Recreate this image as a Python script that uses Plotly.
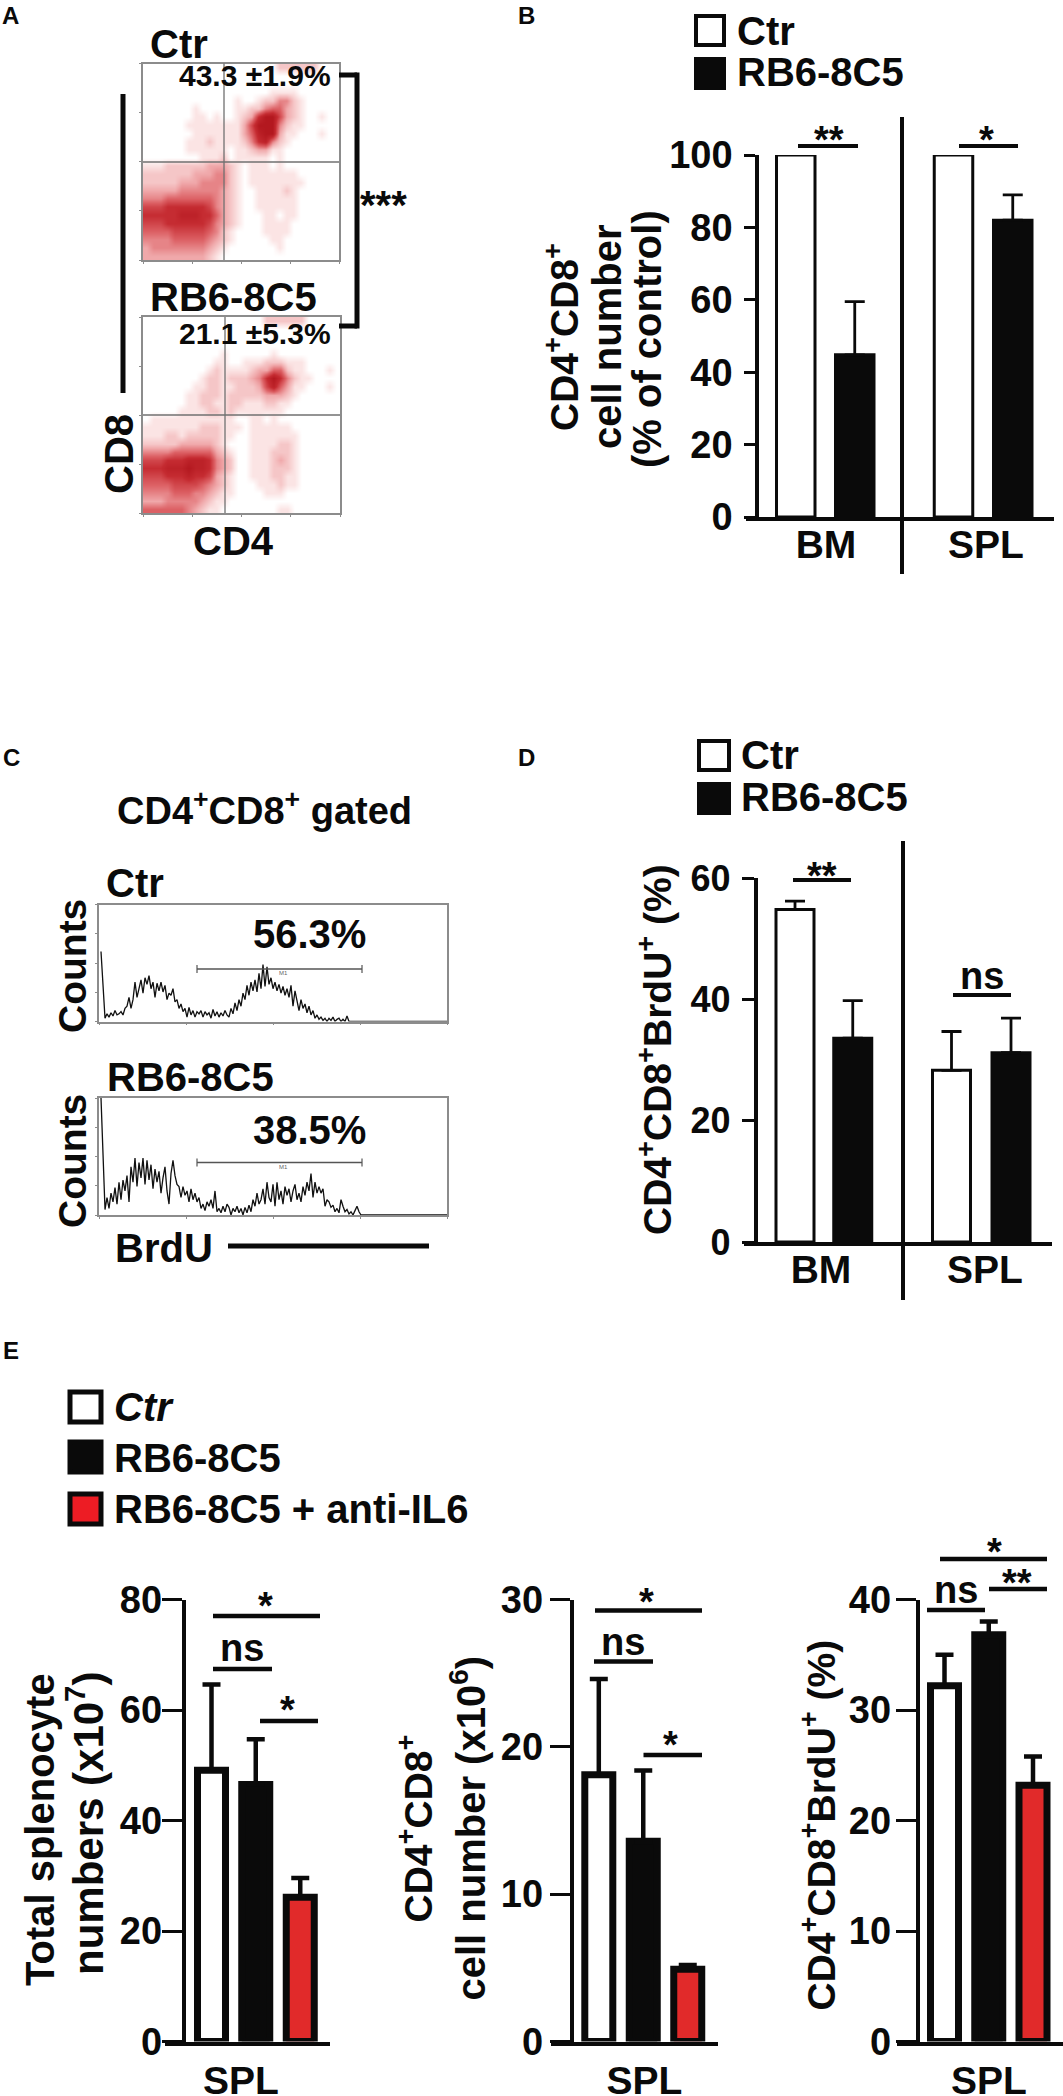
import plotly.graph_objects as go

W, H = 1063, 2096
FONT = "Liberation Sans"
INK = "#0a0a0a"
RED_BAR = "#e12a2a"
RED_KEY = "#ed1c24"
GRAY = "#8c8c8c"

# panel B: CD4+CD8+ cell number (% of control)
b_groups = ["BM", "SPL"]
b_ctr = [100, 100]
b_rb6 = [44.8, 82]
b_rb6_err = [14.7, 7]
b_ticks = [0, 20, 40, 60, 80, 100]

# panel D: CD4+CD8+BrdU+ (%)
d_groups = ["BM", "SPL"]
d_ctr = [54.8, 28.3]
d_ctr_err = [1.4, 6.4]
d_rb6 = [33.6, 31.2]
d_rb6_err = [6.2, 5.7]
d_ticks = [0, 20, 40, 60]

# panel E: three spleen charts, Ctr / RB6-8C5 / RB6-8C5 + anti-IL6
e1_vals = [49.1, 46.5, 26.1]
e1_err = [15.5, 8.2, 3.5]
e1_ticks = [0, 20, 40, 60, 80]
e2_vals = [18.1, 13.6, 4.9]
e2_err = [6.5, 4.8, 0.3]
e2_ticks = [0, 10, 20, 30]
e3_vals = [32.2, 36.8, 23.2]
e3_err = [2.8, 1.2, 2.6]
e3_ticks = [0, 10, 20, 30, 40]

# panel C: BrdU histograms, counts per channel
hist_ctr = [64, 30, 3, 7, 4, 8, 5, 10, 6, 7,
            9, 6, 12, 14, 22, 12, 20, 36, 22, 30,
            38, 26, 40, 34, 42, 30, 36, 22, 35, 28,
            36, 27, 33, 20, 26, 24, 30, 18, 20, 12,
            16, 9, 12, 4, 13, 6, 10, 4, 9, 7,
            10, 4, 9, 6, 8, 3, 11, 5, 9, 4,
            8, 5, 10, 6, 4, 12, 7, 17, 10, 20,
            14, 26, 20, 33, 24, 36, 28, 38, 27, 44,
            30, 52, 32, 50, 34, 40, 30, 36, 28, 34,
            26, 32, 24, 30, 22, 33, 14, 28, 18, 10,
            20, 12, 16, 8, 14, 6, 10, 3, 6, 2,
            4, 1, 3, 0, 3, 1, 4, 0, 2, 3,
            0, 2, 0, 5, 0, 0, 0, 0, 0, 0]
hist_rb6 = [107, 60, 5, 16, 6, 20, 12, 25, 10, 30,
            14, 32, 22, 36, 12, 44, 30, 52, 26, 48,
            34, 52, 28, 50, 32, 46, 24, 42, 30, 40,
            20, 34, 44, 22, 10, 38, 50, 36, 28, 26,
            16, 26, 18, 22, 12, 24, 14, 20, 12, 16,
            6, 10, 4, 12, 8, 14, 6, 22, 3, 6,
            2, 8, 3, 10, 7, 0, 6, 3, 8, 2,
            6, 0, 7, 2, 9, 3, 14, 8, 20, 10,
            14, 24, 10, 30, 16, 12, 28, 8, 30, 14,
            22, 10, 26, 18, 24, 12, 22, 28, 14, 20,
            12, 26, 18, 30, 22, 38, 16, 30, 20, 26,
            20, 24, 8, 14, 12, 7, 9, 3, 6, 2,
            14, 8, 3, 5, 1, 3, 0, 4, 8, 3]
HIST_CHANNELS = 174

# panel A: dot plot density, one digit per cell
dots_ctr = [
    "0000000000000000000222222000",
    "0000000000000000000000000000",
    "0000000000000000000000000000",
    "0000000000000000001111000000",
    "0000000000000100122442100000",
    "0000000100000112245532100000",
    "0000000110100123799632100100",
    "0000001111111136999421100000",
    "0000000111111135899311000100",
    "0000001112111124784210000000",
    "0000001111110112331100000000",
    "0000000011120111110100000000",
    "1112222223332101110100000000",
    "2222222333442101111111000000",
    "2222233344442101111111100000",
    "3333344444432100111121000000",
    "4445555555432100111111000000",
    "6667777776432100111111000000",
    "7777788877532100011011000000",
    "6667777776432100011110000000",
    "5555666665421000011110000000",
    "4444555554321000001100000000",
    "3444444443210000000100000000",
    "3333333332100000000000000000",
]
dots_rb6 = [
    "0000000000000000022222200000",
    "0000000000000000000000000000",
    "0000000000000000000000000000",
    "0000000000000000000000000000",
    "0000000000010000001000000000",
    "0000000000110011122211100000",
    "0000000001211112335521100010",
    "0000000012212223479742110000",
    "0000000112211222368531100010",
    "0000001122212222233321000000",
    "0000001122112211122110000000",
    "0000011112212111111100000000",
    "0111111111111001101000000000",
    "1111111122211101111110000000",
    "1112212222211001111111000000",
    "2222233333210001111221000000",
    "4444555555321001112221000000",
    "6667778887432001112321000000",
    "7778889887432001112221000000",
    "6667778776321001112211000000",
    "5555666654321000111211000000",
    "4444555443211000011100000000",
    "3334444432110000000000000000",
    "5555554321100000000110000000",
]


def fx(px):
    return px / W


def fy(py):
    return 1 - py / H


fig = go.Figure()


def text(x, y, s, size=40, anchor="center", angle=0, italic=False, weight="bold", color=INK):
    fig.add_annotation(
        x=fx(x), y=fy(y), xref="paper", yref="paper", text=s, showarrow=False,
        xanchor=anchor, yanchor="middle", textangle=angle,
        font=dict(family=FONT, size=size, color=color, weight=weight,
                  style="italic" if italic else "normal"),
    )


def line(x0, y0, x1, y1, width=4, color=INK):
    fig.add_shape(type="line", xref="paper", yref="paper", x0=fx(x0), y0=fy(y0), x1=fx(x1), y1=fy(y1),
                  line=dict(color=color, width=width))


def swatch(x0, y0, x1, y1, fill, width=4):
    fig.add_shape(type="rect", xref="paper", yref="paper", x0=fx(x0), y0=fy(y0), x1=fx(x1), y1=fy(y1),
                  fillcolor=fill, line=dict(color=INK, width=width))


def bar_axes(n, left, axis_x, right, top, bottom, ymax, ticks, groups, centers, tick_size, ticklen, standoff, label_size, label_standoff):
    fig.update_layout(**{
        f"xaxis{n}": dict(
            domain=[fx(left), fx(right)], range=[left, right], anchor=f"y{n}", automargin=False,
            showline=True, linecolor=INK, linewidth=3.5, showgrid=False, zeroline=False,
            ticks="", tickmode="array", tickvals=centers, ticktext=groups,
            ticklabelstandoff=label_standoff,
            tickfont=dict(family=FONT, size=label_size, color=INK, weight="bold"),
        ),
        f"yaxis{n}": dict(
            domain=[fy(bottom), fy(top)], range=[0, ymax], anchor="free", position=fx(axis_x), automargin=False,
            showline=True, linecolor=INK, linewidth=3.5, showgrid=False, zeroline=False,
            ticks="outside", ticklen=ticklen, tickwidth=3, tickcolor=INK,
            tickmode="array", tickvals=ticks, ticklabelstandoff=standoff,
            tickfont=dict(family=FONT, size=tick_size, color=INK, weight="bold"),
        ),
    })


def bars(n, xs, vals, errs, fill, width, stroke, cap, thick):
    err = dict(type="data", array=errs, symmetric=False, arrayminus=[0] * len(vals),
               color=INK, thickness=thick, width=cap) if errs else dict(visible=False)
    fig.add_trace(go.Bar(x=xs, y=vals, width=width, xaxis=f"x{n}", yaxis=f"y{n}",
                         marker=dict(color=fill, line=dict(color=INK, width=stroke)),
                         error_y=err, showlegend=False))


def facs_axes(n, left, right, top, bottom, xrange, yrange):
    span_x = xrange[1] - xrange[0]
    span_y = yrange[1] - yrange[0]
    fig.update_layout(**{
        f"xaxis{n}": dict(
            domain=[fx(left), fx(right)], range=xrange, anchor=f"y{n}", mirror=True, automargin=False,
            showline=True, linecolor=GRAY, linewidth=1.5, showgrid=False, zeroline=False,
            ticks="outside", ticklen=2, tickwidth=1, tickcolor=GRAY, showticklabels=False,
            tickmode="array", tickvals=[xrange[0] + span_x * k / 4 for k in range(5)],
        ),
        f"yaxis{n}": dict(
            domain=[fy(bottom), fy(top)], range=yrange, anchor=f"x{n}", mirror=True, automargin=False,
            showline=True, linecolor=GRAY, linewidth=1.5, showgrid=False, zeroline=False,
            ticks="outside", ticklen=2, tickwidth=1, tickcolor=GRAY, showticklabels=False,
            tickmode="array", tickvals=[yrange[0] + span_y * k / 4 for k in range(5)],
        ),
    })


# --- panel B
B_X = [795.75, 953.5, 854.75, 1012.75]
bar_axes(2, 746, 757, 1054, 155, 517, 100, b_ticks, b_groups, [826, 986], 38, 11, 4, 39, -10)
bars(2, B_X[:2], b_ctr, None, "white", 38.5, 3, 0, 0)
bars(2, B_X[2:], b_rb6, b_rb6_err, INK, 38.5, 3, 10, 2.8)

# --- panel D
D_X = [795, 951.5, 852.75, 1011]
bar_axes(3, 743.5, 756, 1052, 878, 1242, 60, d_ticks, d_groups, [821, 985], 36, 12.5, 4, 39, -10)
bars(3, D_X[:2], d_ctr, d_ctr_err, "white", 38, 3, 10, 2.8)
bars(3, D_X[2:], d_rb6, d_rb6_err, INK, 38, 3, 10, 2.8)

# --- panel E
E_CHARTS = [
    (4, 164.5, 184, 330, e1_vals, e1_err, 80, e1_ticks, [241], [211.5, 255.75, 300.25], -8),
    (5, 551, 572, 718, e2_vals, e2_err, 30, e2_ticks, [644.5], [598.8, 643.25, 687.75], -1),
    (6, 897, 918, 1063, e3_vals, e3_err, 40, e3_ticks, [989], [944.5, 988.75, 1033], -3),
]
for n, left, axis_x, right, vals, errs, ymax, ticks, mid, xs, standoff in E_CHARTS:
    bar_axes(n, left, axis_x, right, 1599.5, 2041.5, ymax, ticks, ["SPL"], mid, 38, 20.5, standoff, 39, 2)
    for i, fill in enumerate(["white", INK, RED_BAR]):
        bars(n, [xs[i]], [vals[i]], [errs[i]], fill, 28, 7, 9, 4.5)

# --- panel A dot plots
dot_scale = [[0, "#ffffff"], [0.11, "#fbe4e4"], [0.33, "#f0a9ab"], [0.55, "#dd6266"], [0.78, "#c52b31"], [1, "#b3181f"]]
for n, rows, frame, gate in [
    (7, dots_ctr, (143, 339, 63.5, 260), (224, 162)),
    (8, dots_rb6, (143, 340, 317, 513), (225, 415)),
]:
    left, right, top, bottom = frame
    facs_axes(n, left, right, top, bottom, [-0.5, 27.5], [23.5, -0.5])
    fig.add_trace(go.Heatmap(z=[[int(c) for c in r] for r in rows], xaxis=f"x{n}", yaxis=f"y{n}",
                             colorscale=dot_scale, zmin=0, zmax=9, zsmooth="best", showscale=False))
    line(gate[0], top, gate[0], bottom, 1.3, "#707070")
    line(left, gate[1], right, gate[1], 1.3, "#707070")

# --- panel C histograms
for n, counts, frame, gate_y in [
    (9, hist_ctr, (99, 447, 904.5, 1021.5), 969),
    (10, hist_rb6, (99, 447, 1098, 1215), 1162.5),
]:
    left, right, top, bottom = frame
    facs_axes(n, left, right, top, bottom, [-1, HIST_CHANNELS - 1], [0, 107])
    padded = counts + [0] * (HIST_CHANNELS - len(counts))
    fig.add_trace(go.Scatter(x=list(range(HIST_CHANNELS)), y=padded, xaxis=f"x{n}", yaxis=f"y{n}",
                             mode="lines", line=dict(color="#111111", width=1.3), showlegend=False))
    line(197, gate_y, 362, gate_y, 1.5, "#555555")
    line(197, gate_y - 4, 197, gate_y + 4, 1.2, "#555555")
    line(362, gate_y - 4, 362, gate_y + 4, 1.2, "#555555")
    text(283, gate_y + 4, "M1", 6, weight="normal", color="#666666")

# --- panel letters
text(0, 15, "A", 24, "left")
text(516, 15, "B", 24, "left")
text(1, 757, "C", 24, "left")
text(516, 757, "D", 24, "left")
text(1, 1350, "E", 24, "left")

# --- panel A text and brackets
text(148, 44, "Ctr", 40, "left")
text(148, 297, "RB6-8C5", 40, "left")
text(333, 76, "43.3 ±1.9%", 30, "right")
text(333, 333, "21.1 ±5.3%", 30, "right")
text(119, 454, "CD8", 40, angle=-90)
text(233, 541, "CD4", 40)
text(383, 205, "***", 40)
line(123, 94, 123, 393, 5)
line(339, 75, 357, 75, 5)
line(357, 72.5, 357, 328.5, 5)
line(339, 326, 357, 326, 5)

# --- panel B text
swatch(696, 16, 724, 45, "white")
swatch(696, 59, 724, 88, INK)
text(735, 31, "Ctr", 40, "left")
text(735, 72, "RB6-8C5", 40, "left")
text(561, 337, "CD4<sup>+</sup>CD8<sup>+</sup>", 39, angle=-90)
text(607, 337, "cell number", 40, angle=-90)
text(647, 339, "(% of control)", 40, angle=-90)
line(902, 117, 902, 574, 4)
line(798, 146, 858, 146, 4)
line(959, 146, 1018, 146, 4)
text(829, 140, "**", 38)
text(986, 140, "*", 38)

# --- panel C text
text(264, 808, "CD4<sup>+</sup>CD8<sup>+</sup> gated", 38)
text(104, 883, "Ctr", 40, "left")
text(105, 1077, "RB6-8C5", 40, "left")
text(72, 966, "Counts", 39, angle=-90)
text(72, 1161, "Counts", 39, angle=-90)
text(309, 933.5, "56.3%", 40)
text(309, 1130, "38.5%", 40)
text(113, 1248, "BrdU", 40, "left")
line(228, 1246, 429, 1246, 5)

# --- panel D text
swatch(699, 741, 729, 770, "white")
swatch(699, 784, 729, 813, INK)
text(738.5, 755.5, "Ctr", 40, "left")
text(738.5, 797, "RB6-8C5", 40, "left")
text(654, 1050, "CD4<sup>+</sup>CD8<sup>+</sup>BrdU<sup>+</sup> (%)", 39, angle=-90)
line(903, 841, 903, 1300, 4)
line(793, 880, 851, 880, 4)
line(953, 995, 1011, 995, 4)
text(822, 876, "**", 38)
text(982, 976, "ns", 38)

# --- panel E legend
swatch(70, 1392, 101, 1422, "white", 5)
swatch(70, 1442, 101, 1472, INK, 5)
swatch(70, 1494, 101, 1524, RED_KEY, 5)
text(112, 1407, "Ctr", 40, "left", italic=True)
text(112, 1458, "RB6-8C5", 40, "left")
text(112, 1509, "RB6-8C5 + anti-IL6", 40, "left")

# --- panel E labels and significance bars
text(40, 1830, "Total splenocyte", 40, angle=-90)
text(85, 1824, "numbers (x10<sup>7</sup>)", 42, angle=-90)
text(414.5, 1829, "CD4<sup>+</sup>CD8<sup>+</sup>", 39, angle=-90)
text(468.5, 1828, "cell number (x10<sup>6</sup>)", 40, angle=-90)
text(817.5, 1825, "CD4<sup>+</sup>CD8<sup>+</sup>BrdU<sup>+</sup> (%)", 39, angle=-90)

line(213, 1616, 320, 1616, 4.5)
line(213, 1669, 272, 1669, 4.5)
line(260, 1721, 318, 1721, 4.5)
text(265, 1606, "*", 38)
text(242, 1648, "ns", 38)
text(287, 1710, "*", 38)

line(595, 1610.5, 702, 1610.5, 4.5)
line(594, 1661.5, 653, 1661.5, 4.5)
line(643.5, 1755, 702, 1755, 4.5)
text(646, 1602, "*", 38)
text(623, 1642, "ns", 38)
text(670.5, 1745, "*", 38)

line(940, 1559, 1047, 1559, 4.5)
line(989, 1589, 1047, 1589, 4.5)
line(927, 1610, 985, 1610, 4.5)
text(994, 1552, "*", 38)
text(1017, 1583, "**", 38)
text(956, 1590, "ns", 38)

fig.update_layout(
    width=W, height=H, margin=dict(l=0, r=0, t=0, b=0, pad=0),
    paper_bgcolor="white", plot_bgcolor="rgba(0,0,0,0)",
    barmode="overlay", showlegend=False,
)

fig.write_html("out.html", config={"displayModeBar": False}, post_script="document.body.style.margin='0';")
